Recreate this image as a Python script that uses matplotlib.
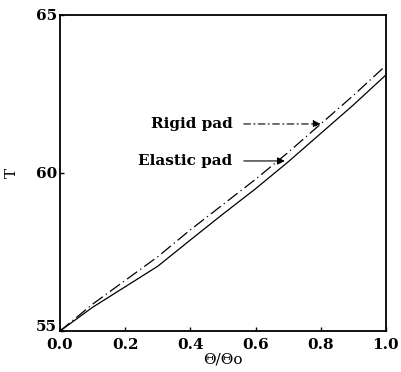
import matplotlib.pyplot as plt
import matplotlib.transforms as mtransforms

theta_ratio = [0.0, 0.1, 0.2, 0.3, 0.4, 0.5, 0.6, 0.7, 0.8, 0.9, 1.0]
t_rigid = [55.0, 55.85, 56.6, 57.35, 58.2, 59.0, 59.8, 60.65, 61.55, 62.45, 63.4]
t_elastic = [55.0, 55.75, 56.4, 57.05, 57.88, 58.7, 59.5, 60.35, 61.25, 62.15, 63.1]

x_ticks = [0.0, 0.2, 0.4, 0.6, 0.8, 1.0]
y_ticks = [55, 60, 65]

plt.rcParams['font.family'] = ['DejaVu Serif']
plt.rcParams['font.weight'] = 'bold'

fig = plt.figure(figsize=(4.02, 3.72), dpi=100)
ax = fig.add_axes([0.149, 0.110, 0.811, 0.850])

ax.plot(theta_ratio, t_rigid, color='black', lw=0.9, dashes=[10, 3, 1, 3])
ax.plot(theta_ratio, t_elastic, color='black', lw=0.9)

ax.set_xlim(0, 1)
ax.set_ylim(55, 65)
ax.set_xticks(x_ticks)
ax.set_xticklabels([f'{v:.1f}' for v in x_ticks])
ax.set_yticks(y_ticks)
ax.tick_params(direction='in', length=3, labelsize=11, width=1)
ax.tick_params(axis='y', pad=2)
ax.tick_params(axis='x', pad=5)
for s in ax.spines.values():
    s.set_linewidth(1.3)

# lift the bottom y label a little so it clears the 0.0 below it
lbl = ax.get_yticklabels()[0]
lbl.set_transform(lbl.get_transform() + mtransforms.ScaledTranslation(0, 4 / 72, fig.dpi_scale_trans))

ax.set_xlabel('Θ/Θo', fontsize=11, fontweight='normal', labelpad=0)
ax.set_ylabel('T', fontsize=11, rotation=90, labelpad=12)

ax.annotate('Rigid pad', xy=(0.80, 61.55), xytext=(0.53, 61.55),
            fontsize=11, fontweight='bold', ha='right', va='center',
            arrowprops=dict(arrowstyle='-|>', color='black', lw=0.8,
                            linestyle=(0, (6, 3, 1, 3)), shrinkA=6, shrinkB=0))
ax.annotate('Elastic pad', xy=(0.69, 60.38), xytext=(0.53, 60.38),
            fontsize=11, fontweight='bold', ha='right', va='center',
            arrowprops=dict(arrowstyle='-|>', color='black', lw=0.8,
                            shrinkA=6, shrinkB=0))

plt.savefig('out.png', dpi=100)
